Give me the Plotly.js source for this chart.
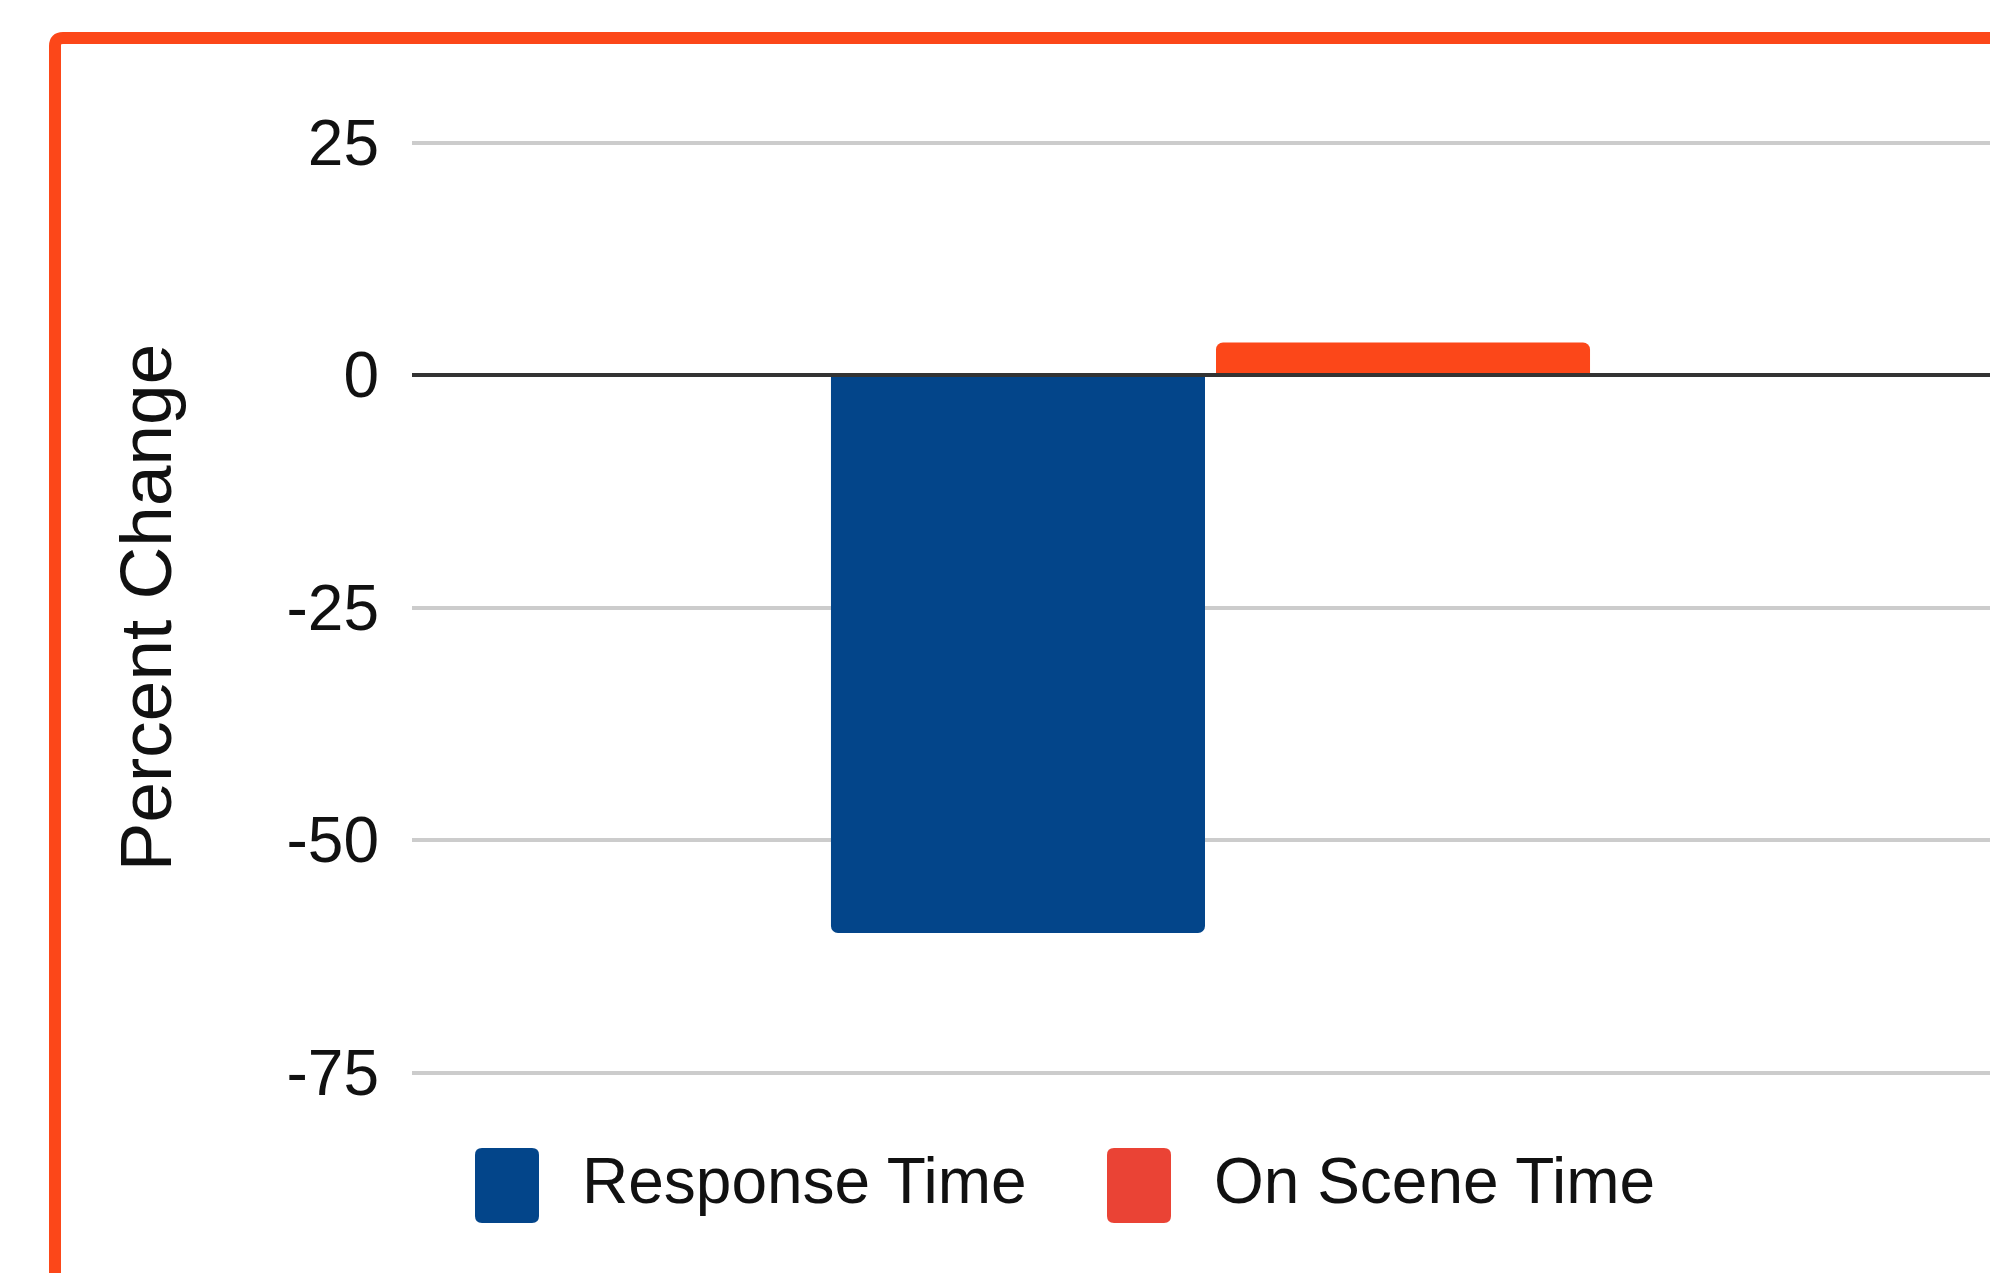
<!DOCTYPE html>
<html>
<head>
<meta charset="utf-8">
<script src="https://cdn.plot.ly/plotly-3.0.1.min.js"></script>
<style>
  html, body { margin: 0; padding: 0; background: #ffffff; overflow: hidden; }
  #chart { width: 1990px; height: 1273px; }
</style>
</head>
<body>
<div id="chart"></div>
<script>
// ---- data ----
const categories = ['Overall'];
const seriesNames = ['Response Time', 'On Scene Time'];
const responseTime = [-60];
const onSceneTime = [3.5];
const yTickVals = [-75, -50, -25, 0, 25];
const yTickText = ['-75', '-50', '-25', '0', '25'];
const yTitle = 'Percent Change';

// ---- layout geometry (pixels) ----
const W = 1990, H = 1273;
const M = { l: 412, r: 0, t: 96, b: 154 };
const plotW = W - M.l - M.r;
const plotH = H - M.t - M.b;
const px = x => (x - M.l) / plotW;
const py = y => (H - M.b - y) / plotH;

function roundRect(x0, y0, x1, y1, r) {
  const p = (x, y) => px(x) + ',' + py(y);
  return 'M' + p(x0 + r, y0) + ' L' + p(x1 - r, y0) + ' Q' + p(x1, y0) + ' ' + p(x1, y0 + r) +
         ' L' + p(x1, y1 - r) + ' Q' + p(x1, y1) + ' ' + p(x1 - r, y1) +
         ' L' + p(x0 + r, y1) + ' Q' + p(x0, y1) + ' ' + p(x0, y1 - r) +
         ' L' + p(x0, y0 + r) + ' Q' + p(x0, y0) + ' ' + p(x0 + r, y0) + ' Z';
}
function framePath(xc, yc, r) {
  const p = (x, y) => px(x) + ',' + py(y);
  return 'M' + p(xc, 1500) + ' L' + p(xc, yc + r) + ' Q' + p(xc, yc) + ' ' + p(xc + r, yc) + ' L' + p(2300, yc);
}

const BLUE = '#03458A';
const ORANGE = '#FC4719';
const LEGEND_RED = '#EA4335';
const FONT = '"Liberation Sans", Arial, Helvetica, sans-serif';
const TEXT = '#111111';

const traces = [
  {
    type: 'bar', name: seriesNames[0], x: categories, y: responseTime,
    marker: { color: BLUE, cornerradius: 7 }, hoverinfo: 'name+y'
  },
  {
    type: 'bar', name: seriesNames[1], x: categories, y: onSceneTime,
    marker: { color: ORANGE, cornerradius: 7 }, hoverinfo: 'name+y'
  }
];

const layout = {
  width: W, height: H,
  margin: M,
  paper_bgcolor: '#ffffff',
  plot_bgcolor: '#ffffff',
  showlegend: false,
  barmode: 'group',
  bargap: 0.5178,
  bargroupgap: 0.0286,
  xaxis: {
    type: 'category',
    range: [-0.5, 0.4881],
    showticklabels: false,
    showgrid: false,
    zeroline: false,
    showline: false,
    ticks: ''
  },
  yaxis: {
    range: [-80, 30],
    tickvals: yTickVals,
    ticktext: yTickText,
    tickfont: { family: FONT, size: 64, color: TEXT },
    ticks: '',
    ticklabelstandoff: 32,
    showgrid: true,
    gridcolor: '#cccccc',
    gridwidth: 4,
    zeroline: true,
    zerolinecolor: '#333333',
    zerolinewidth: 4,
    zerolinelayer: 'above traces',
    showline: false,
    title: {
      text: yTitle,
      font: { family: FONT, size: 73, color: TEXT },
      standoff: 90
    }
  },
  shapes: [
    { type: 'path', xref: 'paper', yref: 'paper', path: framePath(55, 38, 8),
      line: { color: ORANGE, width: 12 }, layer: 'above' },
    { type: 'path', xref: 'paper', yref: 'paper', path: roundRect(475, 1148, 539, 1223, 7),
      fillcolor: BLUE, line: { width: 0 } },
    { type: 'path', xref: 'paper', yref: 'paper', path: roundRect(1107, 1148, 1171, 1223, 7),
      fillcolor: LEGEND_RED, line: { width: 0 } }
  ],
  annotations: [
    { xref: 'paper', yref: 'paper', x: px(580), y: py(1181), xanchor: 'left', yanchor: 'middle',
      text: seriesNames[0], showarrow: false,
      font: { family: FONT, size: 64, color: TEXT } },
    { xref: 'paper', yref: 'paper', x: px(1212), y: py(1181), xanchor: 'left', yanchor: 'middle',
      text: seriesNames[1], showarrow: false,
      font: { family: FONT, size: 64, color: TEXT } }
  ]
};

Plotly.newPlot('chart', traces, layout, { displayModeBar: false, staticPlot: true });
</script>
</body>
</html>
